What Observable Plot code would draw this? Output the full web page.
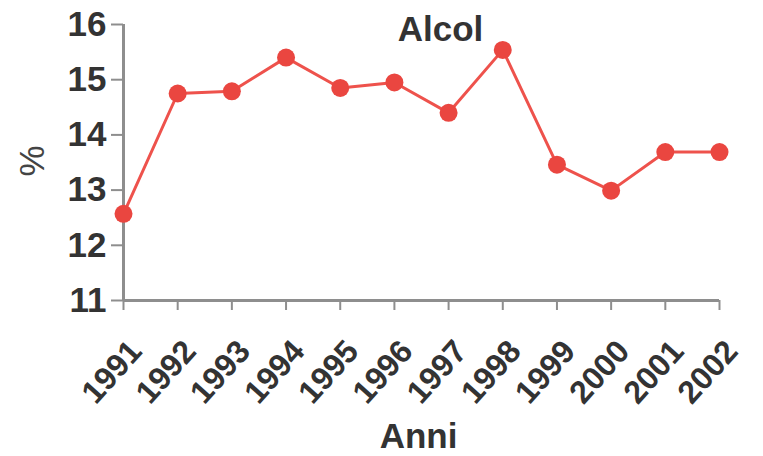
<!DOCTYPE html>
<html>
<head>
<meta charset="utf-8">
<script src="https://cdn.jsdelivr.net/npm/d3@7"></script>
<script src="https://cdn.jsdelivr.net/npm/@observablehq/plot@0.6"></script>
<style>
  html, body { margin: 0; padding: 0; background: #fff; }
</style>
</head>
<body>
<div id="chart"></div>
<script>
const years = [1991, 1992, 1993, 1994, 1995, 1996, 1997, 1998, 1999, 2000, 2001, 2002];
const values = [12.57, 14.75, 14.79, 15.40, 14.85, 14.95, 14.40, 15.54, 13.46, 12.99, 13.69, 13.69];
const yTicks = [11, 12, 13, 14, 15, 16];
const title = "Alcol";
const yLabel = "%";
const xLabel = "Anni";

const data = years.map((y, i) => ({year: y, value: values[i]}));
const axisGray = "#8e8e8e";
const textColor = "#333";
const red = "#ea4640";
const font = "'Liberation Sans', Arial, Helvetica, sans-serif";

const chart = Plot.plot({
  width: 763,
  height: 456,
  marginLeft: 123,
  marginRight: 44,
  marginTop: 24,
  marginBottom: 156,
  style: {fontFamily: font, background: "#fff", color: textColor},
  x: {domain: [1991, 2002], axis: null},
  y: {domain: [11, 16], axis: null},
  marks: [
    Plot.axisY({ticks: yTicks, tickSize: 12, tickPadding: 5, tickFormat: d => String(d),
      fontSize: 35, fontWeight: "bold", label: null, stroke: axisGray, strokeWidth: 2,
      fill: textColor}),
    Plot.axisX({ticks: years, tickSize: 10, tickFormat: () => "", label: null,
      stroke: axisGray, strokeWidth: 2}),
    Plot.ruleY([11], {stroke: axisGray, strokeWidth: 3}),
    Plot.ruleX([1991], {stroke: axisGray, strokeWidth: 3}),
    Plot.text(years, {x: d => d, frameAnchor: "bottom", text: d => String(d), rotate: -48,
      textAnchor: "end", lineAnchor: "bottom", dx: 20, dy: 52, fontSize: 32,
      fontWeight: "bold", fill: textColor}),
    Plot.line(data, {x: "year", y: "value", stroke: "#ee524c", strokeWidth: 3}),
    Plot.dot(data, {x: "year", y: "value", r: 9, fill: red, stroke: "none"}),
    Plot.text([title], {frameAnchor: "top", dx: 19, dy: 16, lineAnchor: "bottom",
      fontSize: 35, fontWeight: "bold", fill: textColor}),
    Plot.text([yLabel], {frameAnchor: "left", dx: -91, dy: 14, rotate: -90, fontSize: 35,
      fill: "#444"}),
    Plot.text([xLabel], {frameAnchor: "bottom", dx: -3, dy: 147, lineAnchor: "bottom",
      fontSize: 35, fontWeight: "bold", fill: textColor})
  ]
});
document.getElementById("chart").append(chart);
</script>
</body>
</html>
